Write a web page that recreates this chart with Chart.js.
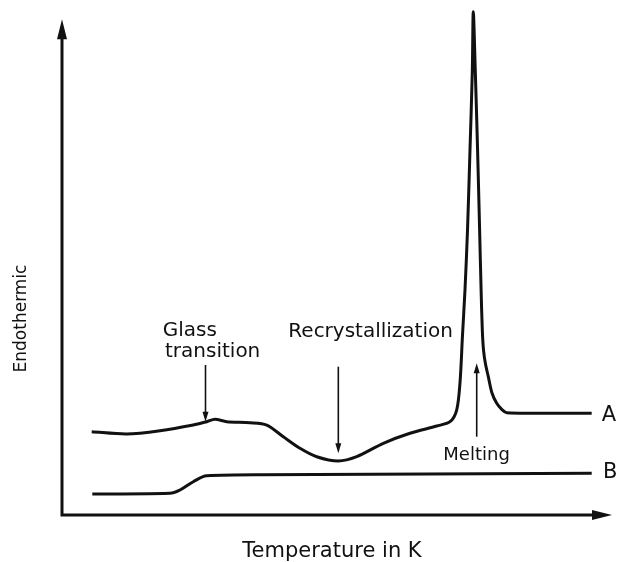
<!DOCTYPE html>
<html>
<head>
<meta charset="utf-8">
<script src="https://cdn.jsdelivr.net/npm/chart.js@4.4.1/dist/chart.umd.min.js"></script>
<style>
    html, body { margin: 0; padding: 0; background: #fff; }
    canvas { display: block; }
</style>
</head>
<body>
<canvas id="dsc-chart" width="617" height="562"></canvas>
<script>
// curve A: glass transition bump, recrystallization dip, melting peak
const tempA = [5.40, 11.76, 17.82, 23.87, 26.31, 27.82, 29.95, 34.18, 37.22, 40.24, 43.27, 46.31, 50.24, 53.58, 58.42, 63.27, 68.13, 70.55, 71.76,
    72.36, 72.82, 73.27, 73.73, 74.18, 74.60, 74.78, 75.15, 75.56, 75.93, 76.20, 76.42, 76.64, 77.00, 77.51, 78.18, 79.04, 79.95, 80.85, 96.31];
const heatA = [16.50, 16.04, 16.69, 17.82, 18.48, 18.95, 18.48, 18.28, 17.82, 15.50, 13.21, 11.54, 10.69, 11.54, 14.20, 16.18, 17.62, 18.48, 20.79,
    26.14, 35.64, 44.55, 56.44, 72.28, 87.72, 99.66, 87.72, 72.28, 56.44, 44.55, 36.63, 32.67, 29.90, 27.39, 24.16, 22.12, 20.93, 20.26, 20.14];
// curve B: glass transition step only
const tempB = [5.51, 19.64, 21.45, 23.87, 26.31, 36.0, 96.31];
const heatB = [4.16, 4.30, 4.95, 6.59, 7.78, 7.98, 8.26];

const curveLabels = [
    {text: 'A', x: 98.13, y: 18.61},
    {text: 'B', x: 98.36, y: 7.23}
];
const notes = [
    {text: 'Glass', x: 18.31, y: 35.45, size: 20},
    {text: 'transition', x: 18.73, y: 31.35, size: 20},
    {text: 'Recrystallization', x: 41.15, y: 35.31, size: 20},
    {text: 'Melting', x: 69.33, y: 10.89, size: 18}
];
// pointers: from -> to (head at "to")
const pointers = [
    {x: 26.09, from: 29.70, to: 18.48},
    {x: 50.24, from: 29.37, to: 12.22},
    {x: 75.40, from: 15.50, to: 30.04}
];

function toPoints(xs, ys) {
    return xs.map((x, i) => ({x: x, y: ys[i]}));
}

function arrowHead(ctx, x, y, dx, dy, len, half) {
    ctx.beginPath();
    ctx.moveTo(x, y);
    ctx.lineTo(x - dx * len - dy * half, y - dy * len + dx * half);
    ctx.lineTo(x - dx * len + dy * half, y - dy * len - dx * half);
    ctx.closePath();
    ctx.fill();
}

const decorations = {
    id: 'decorations',
    afterDraw(chart) {
        const ctx = chart.ctx;
        const xs = chart.scales.x;
        const ys = chart.scales.y;
        const area = chart.chartArea;
        ctx.save();
        ctx.strokeStyle = '#111';
        ctx.fillStyle = '#111';
        ctx.lineWidth = 3;

        // axes with arrowheads
        const x0 = xs.getPixelForValue(0);
        const y0 = ys.getPixelForValue(0);
        const yTop = ys.getPixelForValue(98.16);
        ctx.beginPath();
        ctx.moveTo(x0, y0);
        ctx.lineTo(x0, yTop + 12);
        ctx.moveTo(x0 - 1.5, y0);
        ctx.lineTo(area.right - 12, y0);
        ctx.stroke();
        arrowHead(ctx, x0, yTop, 0, -1, 20, 5);
        arrowHead(ctx, area.right, y0, 1, 0, 20, 5);

        // annotation pointers
        ctx.lineWidth = 1.6;
        pointers.forEach(p => {
            const px = xs.getPixelForValue(p.x);
            const pa = ys.getPixelForValue(p.from);
            const pb = ys.getPixelForValue(p.to);
            const dir = pb > pa ? 1 : -1;
            ctx.beginPath();
            ctx.moveTo(px, pa);
            ctx.lineTo(px, pb - dir * 6);
            ctx.stroke();
            arrowHead(ctx, px, pb, 0, dir, 10, 3);
        });

        // texts
        ctx.textBaseline = 'alphabetic';
        ctx.textAlign = 'left';
        notes.forEach(n => {
            ctx.font = n.size + 'px "DejaVu Sans"';
            ctx.fillText(n.text, xs.getPixelForValue(n.x), ys.getPixelForValue(n.y));
        });
        ctx.font = '21px "DejaVu Sans"';
        curveLabels.forEach(n => {
            ctx.fillText(n.text, xs.getPixelForValue(n.x), ys.getPixelForValue(n.y));
        });

        ctx.textAlign = 'center';
        ctx.fillText('Temperature in K', 332, 557);
        ctx.font = '17px "DejaVu Sans"';
        ctx.translate(26, 318.5);
        ctx.rotate(-Math.PI / 2);
        ctx.fillText('Endothermic', 0, 0);
        ctx.restore();
    }
};

const dscChart = new Chart(document.getElementById('dsc-chart').getContext('2d'), {
    type: 'scatter',
    data: {
        datasets: [{
            label: 'A',
            data: toPoints(tempA, heatA),
            showLine: true,
            borderColor: '#111',
            borderWidth: 3,
            pointRadius: 0,
            tension: 0.3
        }, {
            label: 'B',
            data: toPoints(tempB, heatB),
            showLine: true,
            borderColor: '#111',
            borderWidth: 3,
            pointRadius: 0,
            cubicInterpolationMode: 'monotone'
        }]
    },
    options: {
        responsive: false,
        animation: false,
        layout: {
            padding: {left: 62, right: 5, top: 10, bottom: 47}
        },
        plugins: {
            legend: {display: false},
            tooltip: {enabled: false}
        },
        scales: {
            x: {type: 'linear', min: 0, max: 100, display: false},
            y: {type: 'linear', min: 0, max: 100, display: false}
        }
    },
    plugins: [decorations]
});
</script>
</body>
</html>
